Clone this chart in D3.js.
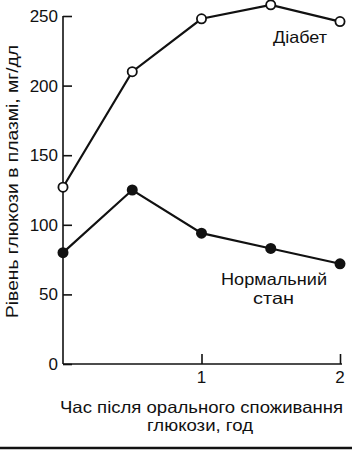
<!DOCTYPE html>
<html><head><meta charset="utf-8">
<script src="https://cdn.jsdelivr.net/npm/d3@7/dist/d3.min.js"></script>
<style>
html,body{margin:0;padding:0;background:#fff;}
svg{display:block;font-family:"Liberation Sans",Arial,sans-serif;}
</style></head>
<body><svg id="c" width="352" height="450"></svg>
<script>
const hours = [0, 0.5, 1, 1.5, 2];
const diabetes = [127, 210, 248, 258, 246];
const normal = [80, 125, 94, 83, 72];
const yTicks = [0, 50, 100, 150, 200, 250];
const xTicks = [1, 2];
const seriesLabels = ["Діабет", ["Нормальний", "стан"]];
const xTitle = ["Час після орального споживання", "глюкози, год"];
const yTitle = "Рівень глюкози в плазмі, мг/дл";

const svg = d3.select("#c");
const x = d3.scaleLinear().domain([0, 2]).range([63, 340]);
const y = d3.scaleLinear().domain([0, 250]).range([364, 16]);

const ink = "#111";
function label(xp, yp, txt, len, size, rot) {
  const t = svg.append("text").attr("text-anchor", "middle")
    .attr("font-size", size).attr("fill", ink).text(txt);
  if (rot) t.attr("transform", `translate(${xp},${yp}) rotate(-90)`);
  else t.attr("x", xp).attr("y", yp);
  if (len) t.attr("textLength", len).attr("lengthAdjust", "spacingAndGlyphs");
  return t;
}

// y axis
const ya = svg.append("g").attr("transform", `translate(${x(0)},0)`)
  .call(d3.axisRight(y).tickValues(yTicks).tickSize(9).tickFormat(""));
ya.select(".domain").attr("d", `M0,${y(0)}V${y(250)}`).attr("stroke", ink).attr("stroke-width", 1.6);
ya.selectAll(".tick line").attr("stroke", ink).attr("stroke-width", 1.6);
svg.append("g").selectAll("text").data(yTicks).join("text")
  .attr("x", 58).attr("y", d => y(d) + 6).attr("text-anchor", "end")
  .attr("font-size", 17).attr("fill", ink).text(d => d);

// x axis
const xa = svg.append("g").attr("transform", `translate(0,${y(0)})`)
  .call(d3.axisTop(x).tickValues(xTicks).tickSize(10).tickFormat(""));
xa.select(".domain").attr("d", `M${x(0)},0H${x(2) + 2}`).attr("stroke", ink).attr("stroke-width", 1.6);
xa.selectAll(".tick line").attr("stroke", ink).attr("stroke-width", 1.6);
svg.append("g").selectAll("text").data(xTicks).join("text")
  .attr("x", d => x(d)).attr("y", y(0) + 19).attr("text-anchor", "middle")
  .attr("font-size", 17).attr("fill", ink).text(d => d);

// lines
const line = d3.line().x((d, i) => x(hours[i])).y(d => y(d));
[diabetes, normal].forEach(s => {
  svg.append("path").attr("d", line(s)).attr("fill", "none")
    .attr("stroke", ink).attr("stroke-width", 2.2);
});
svg.append("g").selectAll("circle").data(diabetes).join("circle")
  .attr("cx", (d, i) => x(hours[i])).attr("cy", d => y(d)).attr("r", 4.6)
  .attr("fill", "#fff").attr("stroke", ink).attr("stroke-width", 1.8);
svg.append("g").selectAll("circle").data(normal).join("circle")
  .attr("cx", (d, i) => x(hours[i])).attr("cy", d => y(d)).attr("r", 5.5)
  .attr("fill", ink);

// series labels
label(300, 43, seriesLabels[0], 54, 16.5);
label(274, 285, seriesLabels[1][0], 106, 16.5);
label(273.5, 304, seriesLabels[1][1], 41, 16.5);

// axis titles
label(201.5, 413, xTitle[0], 283, 16.5);
label(200, 431, xTitle[1], 106, 16.5);
label(18, 181.5, yTitle, 273, 16.5, true);

// bottom rule
svg.append("line").attr("x1", 0).attr("x2", 352).attr("y1", 448).attr("y2", 448)
  .attr("stroke", ink).attr("stroke-width", 2.5);
</script></body></html>
